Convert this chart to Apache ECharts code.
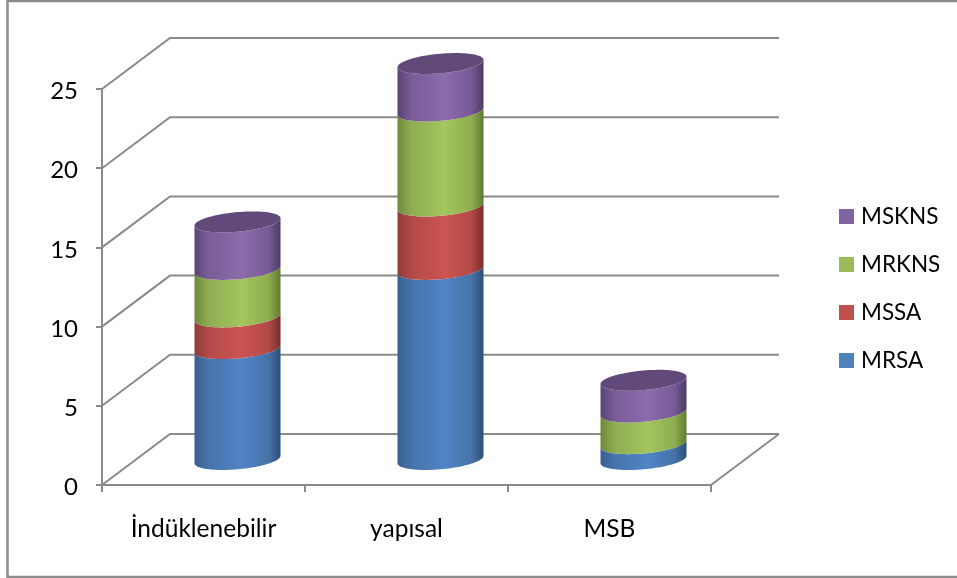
<!DOCTYPE html>
<html>
<head>
<meta charset="utf-8">
<script src="https://cdn.jsdelivr.net/npm/echarts@6/dist/echarts.min.js"></script>
<style>
  html, body { margin: 0; padding: 0; background: #fff; }
  #chart { width: 957px; height: 578px; }
</style>
</head>
<body>
<div id="chart"></div>
<script>
const categories = ['İndüklenebilir', 'yapısal', 'MSB'];
const seriesNames = ['MRSA', 'MSSA', 'MRKNS', 'MSKNS'];
const MRSA = [7, 12, 1];
const MSSA = [2, 4, 0];
const MRKNS = [3, 6, 2];
const MSKNS = [3, 3, 2];
const yTicks = [0, 5, 10, 15, 20, 25];

const fontFamily = 'Lato, "Open Sans", sans-serif';
const depthX = 68, depthY = -51;      // how far the back wall sits from the front plane
const barRadius = 43, tilt = 3.7, minorRadius = 9.8;
const lineColor = '#8a8a8a';
const lineWidth = 2;

// Per-series shading: [edge left, mid left, centre, mid right, edge right], swatch, lid
const shades = [
  { stops: ['#38608f', '#4673aa', '#5084c6', '#4673a8', '#2d4f77'], swatch: '#4f81bd' },
  { stops: ['#8e3b39', '#b34a47', '#cb5451', '#b24a47', '#772d2b'], swatch: '#c0504d' },
  { stops: ['#6c8a3a', '#8fac52', '#a3c65e', '#8fad51', '#5f7b30'], swatch: '#9bbb59' },
  { stops: ['#5a4474', '#7a5c98', '#8c6cab', '#775a95', '#4e3b65'], swatch: '#8064a2', lid: '#614a79' }
];

const seriesValues = [MRSA, MSSA, MRKNS, MSKNS];

function ellipsePoint(cx, cy, t) {
  return [
    cx + barRadius * Math.cos(t),
    cy - tilt * Math.cos(t) + minorRadius * Math.sin(t)
  ];
}

// Points along the near half of a tilted disc, running left to right
function frontArc(cx, cy) {
  const pts = [];
  for (let i = 0; i <= 48; i++) pts.push(ellipsePoint(cx, cy, Math.PI - (Math.PI * i) / 48));
  return pts;
}

function fullDisc(cx, cy) {
  const pts = [];
  for (let i = 0; i < 96; i++) pts.push(ellipsePoint(cx, cy, (2 * Math.PI * i) / 96));
  return pts;
}

// Cumulative base of a segment, stacked from the first series upward
function stackBase(seriesIndex, catIndex) {
  let sum = 0;
  for (let s = 0; s < seriesIndex; s++) sum += seriesValues[s][catIndex];
  return sum;
}

function renderCylinderSegment(seriesIndex) {
  return function (params, api) {
    const catIndex = api.value(0);
    const value = api.value(1);
    if (!value) return null;
    const base = stackBase(seriesIndex, catIndex);
    const lower = api.coord([catIndex, base]);
    const upper = api.coord([catIndex, base + value]);
    const cx = lower[0] + depthX / 2;
    const yLow = lower[1] + depthY / 2;
    const yHigh = upper[1] + depthY / 2;
    const shade = shades[seriesIndex];
    const s = shade.stops;
    const arcLow = frontArc(cx, yLow);
    const arcHigh = frontArc(cx, yHigh);
    const outline = arcLow.concat(arcHigh.reverse());
    const children = [{
      type: 'polygon',
      shape: { points: outline },
      style: {
        fill: new echarts.graphic.LinearGradient(
          cx - barRadius, 0, cx + barRadius, 0,
          [
            { offset: 0, color: s[0] },
            { offset: 0.16, color: s[1] },
            { offset: 0.55, color: s[2] },
            { offset: 0.86, color: s[3] },
            { offset: 1, color: s[4] }
          ],
          true
        )
      }
    }];
    if (shade.lid) {
      children.push({
        type: 'polygon',
        shape: { points: fullDisc(cx, yHigh) },
        style: { fill: shade.lid }
      });
    }
    return { type: 'group', children };
  };
}

// Back wall, side wall and floor rulings for one value tick
function renderWallLine(params, api) {
  const tick = api.value(0);
  const rect = params.coordSys;
  const front = api.coord([0, tick])[1];
  const left = rect.x, right = rect.x + rect.width;
  const lineStyle = { stroke: lineColor, lineWidth, fill: null };
  const children = [
    {
      type: 'polyline',
      shape: { points: [[left, front], [left + depthX, front + depthY], [right + depthX, front + depthY]] },
      style: lineStyle
    }
  ];
  if (tick === yTicks[0]) {
    children.push({
      type: 'line',
      shape: { x1: right, y1: front, x2: right + depthX, y2: front + depthY },
      style: lineStyle
    });
  }
  return { type: 'group', children };
}

const chart = echarts.init(document.getElementById('chart'), null, { renderer: 'canvas' });

const axisLine = { show: true, lineStyle: { color: lineColor, width: lineWidth } };
const axisFont = { color: '#000', fontFamily, fontSize: 24.5 };

chart.setOption({
  animation: false,
  backgroundColor: '#fff',
  grid: { left: 102, right: 246, top: 89, bottom: 93 },
  xAxis: {
    type: 'category',
    data: categories,
    axisLine,
    axisTick: { show: true, length: 7, lineStyle: { color: lineColor, width: lineWidth } },
    axisLabel: { ...axisFont, margin: 32 },
    splitLine: { show: false }
  },
  yAxis: {
    type: 'value',
    min: 0,
    max: 25,
    interval: 5,
    axisLine,
    axisTick: { show: true, length: 6, lineStyle: { color: lineColor, width: lineWidth } },
    axisLabel: {
      margin: 24,
      formatter: '{n|{value}}',
      rich: { n: { color: '#000', fontFamily, fontSize: 24, padding: [5, 0, 0, 0] } }
    },
    splitLine: { show: false }
  },
  legend: {
    orient: 'vertical',
    left: 839,
    top: 205,
    padding: 0,
    itemWidth: 15,
    itemHeight: 15,
    itemGap: 25,
    icon: 'rect',
    data: seriesNames.slice().reverse(),
    textStyle: { color: '#000', fontFamily, fontSize: 22.5, padding: [0, 0, 0, 2] },
    selectedMode: false
  },
  graphic: [{
    // Frame runs along the top, left and bottom and is open on the right
    type: 'polyline',
    shape: { points: [[957, 1], [7.5, 1], [7.5, 577], [957, 577]] },
    style: { fill: 'none', stroke: '#8c8c8c', lineWidth: 2.5 },
    silent: true,
    z: -1
  }],
  series: [
    {
      type: 'custom',
      name: 'walls',
      coordinateSystem: 'cartesian2d',
      data: yTicks.map(t => [t]),
      encode: { y: 0 },
      renderItem: renderWallLine,
      silent: true,
      z: 1
    }
  ].concat(seriesNames.map((name, i) => ({
    type: 'custom',
    name,
    coordinateSystem: 'cartesian2d',
    data: seriesValues[i].map((v, c) => [c, v]),
    encode: { x: 0, y: 1 },
    renderItem: renderCylinderSegment(i),
    itemStyle: { color: shades[i].swatch },
    z: 2 + i
  })))
});
</script>
</body>
</html>
